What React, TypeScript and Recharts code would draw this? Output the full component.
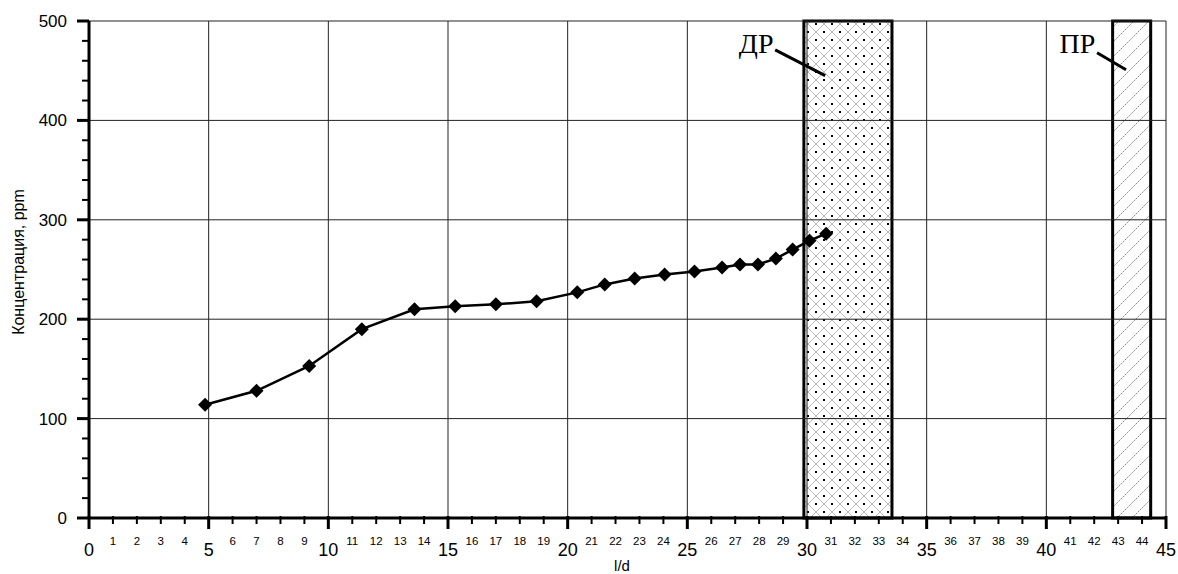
import React from 'react';
import {
  ComposedChart, Line, XAxis, YAxis, ReferenceLine, ReferenceArea, ReferenceDot, Label
} from 'recharts';

// measured points: l/d vs concentration
const ldValues = [4.85, 7.0, 9.2, 11.4, 13.6, 15.3, 17.0, 18.7, 20.4, 21.55, 22.8, 24.05, 25.3, 26.45, 27.2, 27.95, 28.7, 29.4, 30.1, 30.8];
const concValues = [114, 128, 153, 190, 210, 213, 215, 218, 227, 235, 241, 245, 248, 252, 255, 255, 261, 270, 279, 286];

const xTicks = [0, 1, 2, 3, 4, 5, 6, 7, 8, 9, 10, 11, 12, 13, 14, 15, 16, 17, 18, 19, 20, 21, 22, 23, 24, 25, 26, 27, 28, 29, 30, 31, 32, 33, 34, 35, 36, 37, 38, 39, 40, 41, 42, 43, 44, 45];
const yTicks = [0, 20, 40, 60, 80, 100, 120, 140, 160, 180, 200, 220, 240, 260, 280, 300, 320, 340, 360, 380, 400, 420, 440, 460, 480, 500];
const gridX = [5, 10, 15, 20, 25, 30, 35, 40, 45];
const gridY = [100, 200, 300, 400, 500];

// zones: ДР and ПР
const zoneNames = ['ДР', 'ПР'];
const zoneStart = [29.87, 42.77];
const zoneEnd = [33.55, 44.36];
const zoneFill = ['url(#crossHatch)', 'url(#diagHatch)'];
// label anchor and leader line ends, in data units
const zoneLabelX = [28.6, 42.05];
const zoneLabelY = [468, 468];
const leaderFrom = [[28.67, 471], [42.12, 468]];
const leaderTo = [[30.76, 445], [43.33, 451]];

const data = ldValues.map((ld, i) => ({ ld, conc: concValues[i] }));

const SANS = 'Arial, "Liberation Sans", sans-serif';
const SERIF = '"Times New Roman", "Liberation Serif", serif';

const XTick = ({ x, y, payload }: any) => {
  const v = payload.value;
  const major = v % 5 === 0;
  return (
    <g>
      <line x1={x} x2={x} y1={y - 2} y2={y + (major ? 11 : 6)} stroke="#000" strokeWidth={major ? 3 : 2} />
      <text x={x} y={y + (major ? 38 : 27)} textAnchor="middle" fontSize={major ? 18 : 11.5} fontFamily={SANS} fill="#000">
        {v}
      </text>
    </g>
  );
};

const YTick = ({ x, y, payload }: any) => {
  const v = payload.value;
  const major = v % 100 === 0;
  return (
    <g>
      <line x1={x - (major ? 12 : 7)} x2={x} y1={y} y2={y} stroke="#000" strokeWidth={major ? 3 : 2} />
      {major && (
        <text x={x - 22} y={y + 6} textAnchor="end" fontSize={17} fontFamily={SANS} fill="#000">
          {v}
        </text>
      )}
    </g>
  );
};

const Diamond = ({ cx, cy }: any) => (
  <polygon points={`${cx},${cy - 7} ${cx + 7},${cy} ${cx},${cy + 7} ${cx - 7},${cy}`} fill="#000" />
);

export default function App() {
  return (
    <div style={{ position: 'absolute', left: 0, top: 0, background: '#fff' }}>
      <ComposedChart width={1178} height={574} data={data} margin={{ top: 21, right: 12, bottom: 0, left: 0 }}>
        <defs>
          <pattern id="crossHatch" width="16" height="16" patternUnits="userSpaceOnUse">
            <rect width="16" height="16" fill="#fff" />
            <line x1="0" y1="0" x2="16" y2="16" stroke="#aaa" strokeWidth="0.8" />
            <line x1="16" y1="0" x2="0" y2="16" stroke="#aaa" strokeWidth="0.8" />
            <rect x="7" y="-1" width="2" height="2" fill="#000" />
            <rect x="7" y="15" width="2" height="2" fill="#000" />
            <rect x="-1" y="7" width="2" height="2" fill="#000" />
            <rect x="15" y="7" width="2" height="2" fill="#000" />
          </pattern>
          <pattern id="diagHatch" width="15" height="15" patternUnits="userSpaceOnUse">
            <rect width="15" height="15" fill="#fff" />
            <line x1="0" y1="15" x2="15" y2="0" stroke="#888" strokeWidth="1" strokeDasharray="2 1" />
            <line x1="-2" y1="2" x2="2" y2="-2" stroke="#888" strokeWidth="1" />
            <line x1="13" y1="17" x2="17" y2="13" stroke="#888" strokeWidth="1" />
          </pattern>
        </defs>

        <XAxis
          type="number"
          dataKey="ld"
          domain={[0, 45]}
          ticks={xTicks}
          interval={0}
          height={56}
          tickSize={0}
          tickMargin={0}
          tickLine={false}
          axisLine={{ stroke: '#000', strokeWidth: 3 }}
          tick={(p: any) => <XTick {...p} />}
        >
          <Label
            content={() => (
              <text x={622} y={571} textAnchor="middle" fontSize={15} fontFamily={SANS} fill="#000">l/d</text>
            )}
          />
        </XAxis>
        <YAxis
          type="number"
          domain={[0, 500]}
          ticks={yTicks}
          interval={0}
          width={89}
          tickSize={0}
          tickMargin={0}
          tickLine={false}
          axisLine={{ stroke: '#000', strokeWidth: 3 }}
          tick={(p: any) => <YTick {...p} />}
        >
          <Label
            content={() => (
              <text x={24} y={262} transform="rotate(-90 24 262)" textAnchor="middle" fontSize={16} fontFamily={SANS} fill="#000">
                Концентрация, ppm
              </text>
            )}
          />
        </YAxis>

        {gridX.map((v) => (
          <ReferenceLine key={`gx-${v}`} x={v} stroke="#222" strokeWidth={1} />
        ))}
        {gridY.map((v) => (
          <ReferenceLine key={`gy-${v}`} y={v} stroke="#222" strokeWidth={1} />
        ))}

        {zoneNames.map((name, i) => (
          <ReferenceArea
            key={`zone-${name}`}
            x1={zoneStart[i]}
            x2={zoneEnd[i]}
            y1={0}
            y2={500}
            fill={zoneFill[i]}
            fillOpacity={1}
            stroke="#000"
            strokeWidth={3}
          />
        ))}

        {zoneNames.map((name, i) => (
          <ReferenceLine
            key={`leader-${name}`}
            segment={[{ x: leaderFrom[i][0], y: leaderFrom[i][1] }, { x: leaderTo[i][0], y: leaderTo[i][1] }]}
            stroke="#000"
            strokeWidth={3}
          />
        ))}
        {zoneNames.map((name, i) => (
          <ReferenceDot
            key={`label-${name}`}
            x={zoneLabelX[i]}
            y={zoneLabelY[i]}
            r={0}
            fill="none"
            stroke="none"
            label={(p: any) => (
              <text x={p.viewBox.x} y={p.viewBox.y} textAnchor="end" fontSize={28} fontFamily={SERIF} fill="#000">
                {name}
              </text>
            )}
          />
        ))}

        <Line
          type="linear"
          dataKey="conc"
          stroke="#000"
          strokeWidth={2.5}
          dot={(p: any) => <Diamond key={`d-${p.index}`} {...p} />}
          activeDot={false}
          isAnimationActive={false}
        />
      </ComposedChart>
    </div>
  );
}
